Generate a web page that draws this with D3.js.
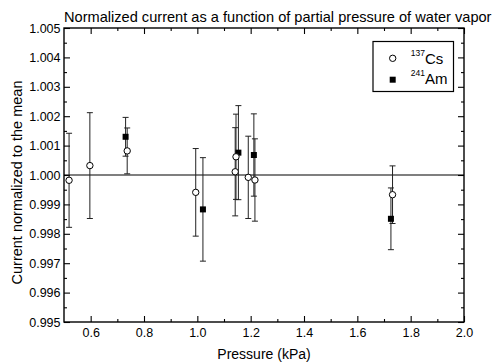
<!DOCTYPE html>
<html>
<head>
<meta charset="utf-8">
<script src="https://cdn.jsdelivr.net/npm/d3@7"></script>
<style>
  body { margin: 0; background: #fff; }
  svg { display: block; font-family: "Liberation Sans", Arial, sans-serif; }
</style>
</head>
<body>
<script>
// 137Cs points (open circles)
const csPressure = [0.519, 0.597, 0.737, 0.994, 1.142, 1.145, 1.191, 1.216, 1.732]
const csCurrent = [0.99982, 1.00032, 1.00082, 0.99941, 1.00011, 1.00062, 0.99992, 0.99983, 0.99933]
const csError = [0.0016, 0.0018, 0.00078, 0.00149, 0.0015, 0.00145, 0.0014, 0.0014, 0.00098]

// 241Am points (filled squares)
const amPressure = [0.731, 1.021, 1.154, 1.212, 1.726]
const amCurrent = [1.0013, 0.99883, 1.00076, 1.00068, 0.99851]
const amError = [0.00066, 0.00176, 0.0016, 0.0014, 0.00105]

const xTicks = [0.6, 0.8, 1.0, 1.2, 1.4, 1.6, 1.8, 2.0]
const xMinorTicks = [0.7, 0.9, 1.1, 1.3, 1.5, 1.7, 1.9]
const yTicks = [0.995, 0.996, 0.997, 0.998, 0.999, 1.000, 1.001, 1.002, 1.003, 1.004, 1.005]
const yMinorTicks = [0.9955, 0.9965, 0.9975, 0.9985, 0.9995, 1.0005, 1.0015, 1.0025, 1.0035, 1.0045]
const meanValue = 1.000

const w = 493
const h = 363
const margin = { top: 28, right: 29, bottom: 41, left: 64 }

const xScale = d3.scaleLinear()
  .domain([0.5, 2.0])
  .range([margin.left, w - margin.right])

const yScale = d3.scaleLinear()
  .domain([0.995, 1.005])
  .range([h - margin.bottom, margin.top])

const svg = d3.select('body')
  .append('svg')
  .attr('width', w)
  .attr('height', h)

const x0 = margin.left, x1 = w - margin.right
const y0 = h - margin.bottom, y1 = margin.top

function drawAxis(axis, transform, cls) {
  const g = svg.append('g')
    .attr('transform', transform)
    .attr('class', cls)
    .call(axis)
  g.select('.domain').remove()
  g.selectAll('line').attr('stroke', '#000').attr('stroke-width', 1.1)
  g.selectAll('text')
    .attr('fill', '#000')
    .style('font-size', '12.5px')
    .style('font-family', '"Liberation Sans", Arial, sans-serif')
  return g
}

// bottom axis with labels
drawAxis(d3.axisBottom(xScale).tickValues(xTicks).tickSize(-6).tickPadding(6).tickFormat(d3.format('.1f')),
  'translate(0,' + y0 + ')', 'x-axis')
drawAxis(d3.axisBottom(xScale).tickValues(xMinorTicks).tickSize(-3).tickFormat(''),
  'translate(0,' + y0 + ')', 'x-minor')
// top axis
drawAxis(d3.axisTop(xScale).tickValues(xTicks).tickSize(-6).tickFormat(''),
  'translate(0,' + y1 + ')', 'x-top')
drawAxis(d3.axisTop(xScale).tickValues(xMinorTicks).tickSize(-3).tickFormat(''),
  'translate(0,' + y1 + ')', 'x-top-minor')

// left axis with labels
drawAxis(d3.axisLeft(yScale).tickValues(yTicks).tickSize(-6).tickPadding(3.5).tickFormat(d3.format('.3f')),
  'translate(' + x0 + ',0)', 'y-axis')
drawAxis(d3.axisLeft(yScale).tickValues(yMinorTicks).tickSize(-3).tickFormat(''),
  'translate(' + x0 + ',0)', 'y-minor')
// right axis
drawAxis(d3.axisRight(yScale).tickValues(yTicks).tickSize(-6).tickFormat(''),
  'translate(' + x1 + ',0)', 'y-right')
drawAxis(d3.axisRight(yScale).tickValues(yMinorTicks).tickSize(-3).tickFormat(''),
  'translate(' + x1 + ',0)', 'y-right-minor')

// frame
svg.append('rect')
  .attr('x', x0)
  .attr('y', y1)
  .attr('width', x1 - x0)
  .attr('height', y0 - y1)
  .attr('fill', 'none')
  .attr('stroke', '#000')
  .attr('stroke-width', 1.4)

// mean line
svg.append('line')
  .attr('x1', xScale(0.5))
  .attr('x2', xScale(2.0))
  .attr('y1', yScale(meanValue))
  .attr('y2', yScale(meanValue))
  .attr('stroke', '#000')
  .attr('stroke-width', 1.2)

const csData = csPressure.map((p, i) => [p, csCurrent[i], csError[i]])
const amData = amPressure.map((p, i) => [p, amCurrent[i], amError[i]])

function errorBars(data, cls) {
  const g = svg.append('g').attr('class', cls)
  const capW = 3
  data.forEach(d => {
    const x = xScale(d[0])
    const yTop = yScale(d[1] + d[2])
    const yBot = yScale(d[1] - d[2])
    g.append('line').attr('x1', x).attr('x2', x).attr('y1', yTop).attr('y2', yBot)
    g.append('line').attr('x1', x - capW).attr('x2', x + capW).attr('y1', yTop).attr('y2', yTop)
    g.append('line').attr('x1', x - capW).attr('x2', x + capW).attr('y1', yBot).attr('y2', yBot)
  })
  g.selectAll('line').attr('stroke', '#222').attr('stroke-width', 1)
}

errorBars(amData, 'am-err')
errorBars(csData, 'cs-err')

const sq = 6
svg.selectAll('rect.am')
  .data(amData)
  .enter()
  .append('rect')
  .attr('class', 'am')
  .attr('x', d => xScale(d[0]) - sq / 2)
  .attr('y', d => yScale(d[1]) - sq / 2)
  .attr('width', sq)
  .attr('height', sq)
  .attr('fill', '#000')

svg.selectAll('circle.cs')
  .data(csData)
  .enter()
  .append('circle')
  .attr('class', 'cs')
  .attr('cx', d => xScale(d[0]))
  .attr('cy', d => yScale(d[1]))
  .attr('r', 3.2)
  .attr('fill', '#fff')
  .attr('stroke', '#000')
  .attr('stroke-width', 1)

// legend
const legend = svg.append('g').attr('class', 'legend')
legend.append('rect')
  .attr('x', 373)
  .attr('y', 41.5)
  .attr('width', 80.5)
  .attr('height', 50)
  .attr('fill', '#fff')
  .attr('stroke', '#000')
  .attr('stroke-width', 1.2)
legend.append('circle')
  .attr('cx', 392.7).attr('cy', 58.3).attr('r', 3.2)
  .attr('fill', '#fff').attr('stroke', '#000')
legend.append('rect')
  .attr('x', 392.7 - sq / 2).attr('y', 79.7 - sq / 2)
  .attr('width', sq).attr('height', sq)
  .attr('fill', '#000')

const isotopes = [['137', 'Cs', 64], ['241', 'Am', 84]]
isotopes.forEach(item => {
  const t = legend.append('text')
    .attr('x', 410.7)
    .attr('y', item[2])
    .style('font-size', '15px')
  t.append('tspan')
    .attr('dy', -8)
    .style('font-size', '8.5px')
    .text(item[0])
  t.append('tspan')
    .attr('dy', 8)
    .text(item[1])
})

// title
svg.append('text')
  .attr('x', 64)
  .attr('y', 22.3)
  .style('font-size', '14.6px')
  .text('Normalized current as a function of partial pressure of water vapor')

// axis labels
svg.append('text')
  .attr('x', (x0 + x1) / 2)
  .attr('y', 358.5)
  .attr('text-anchor', 'middle')
  .style('font-size', '14px')
  .text('Pressure (kPa)')

svg.append('text')
  .attr('transform', 'translate(22,182.5) rotate(-90)')
  .attr('text-anchor', 'middle')
  .style('font-size', '14.5px')
  .text('Current normalized to the mean')
</script>
</body>
</html>
